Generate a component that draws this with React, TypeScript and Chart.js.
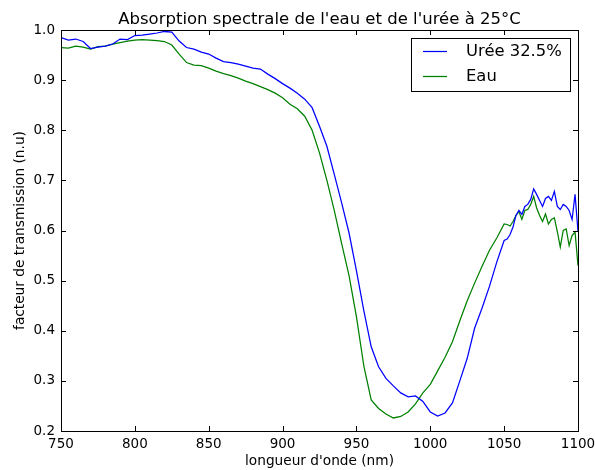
import React, { useEffect, useRef } from "react";
import { Chart, registerables } from "chart.js";

Chart.register(...registerables);

const TITLE = "Absorption spectrale de l'eau et de l'urée à 25°C";
const X_LABEL = "longueur d'onde (nm)";
const Y_LABEL = "facteur de transmission (n.u)";
const SERIES_NAMES = ["Urée 32.5%", "Eau"];

const wavelengths = [
  750, 755, 760, 765, 770, 775, 780, 785, 790, 795,
  800, 805, 810, 815, 820, 825, 830, 835, 840, 845,
  850, 855, 860, 865, 870, 875, 880, 885, 890, 895,
  900, 905, 910, 915, 920, 925, 930, 935, 940, 945,
  950, 955, 960, 965, 970, 975, 980, 985, 990, 995,
  1000, 1005, 1010, 1015, 1020, 1025, 1030, 1035, 1040, 1045,
  1050, 1052, 1054, 1056, 1058, 1060, 1062, 1064, 1066, 1068,
  1070, 1072, 1074, 1076, 1078, 1080, 1082, 1084, 1086, 1088,
  1090, 1092, 1094, 1096, 1098, 1100,
];

const ureeValues = [
  0.985, 0.98, 0.982, 0.977, 0.963, 0.966, 0.968, 0.972, 0.982, 0.981,
  0.989, 0.99, 0.992, 0.994, 0.997, 0.996, 0.978, 0.965, 0.962, 0.956,
  0.952, 0.944, 0.937, 0.935, 0.932, 0.928, 0.924, 0.922, 0.912, 0.903,
  0.893, 0.884, 0.874, 0.862, 0.845, 0.808, 0.768, 0.712, 0.655, 0.595,
  0.52, 0.44, 0.368, 0.328, 0.305, 0.29, 0.276, 0.268, 0.27, 0.259,
  0.238, 0.23, 0.236, 0.256, 0.3, 0.345, 0.405, 0.445, 0.488, 0.537,
  0.58, 0.583, 0.592, 0.607, 0.63, 0.64, 0.632, 0.648, 0.652, 0.662,
  0.683, 0.672, 0.66, 0.648, 0.664, 0.668, 0.66, 0.678, 0.648, 0.642,
  0.652, 0.648, 0.64, 0.622, 0.672, 0.598,
];

const eauValues = [
  0.965, 0.964, 0.968, 0.966, 0.962, 0.967, 0.968, 0.972, 0.975, 0.978,
  0.98, 0.981, 0.98, 0.979, 0.977, 0.97, 0.952, 0.935, 0.93, 0.929,
  0.924, 0.918, 0.913, 0.909, 0.904, 0.898, 0.893, 0.887, 0.881, 0.874,
  0.865, 0.852, 0.843, 0.828, 0.8, 0.755, 0.7, 0.64, 0.574, 0.51,
  0.428, 0.33, 0.262, 0.245, 0.234, 0.226, 0.229, 0.238, 0.254, 0.276,
  0.293, 0.32, 0.347, 0.378, 0.42, 0.46, 0.495, 0.528, 0.56, 0.585,
  0.613, 0.612, 0.609, 0.618, 0.63, 0.638, 0.622, 0.64, 0.642, 0.652,
  0.668, 0.645, 0.63, 0.618, 0.633, 0.613, 0.622, 0.625, 0.598, 0.567,
  0.6, 0.603, 0.57, 0.59, 0.597, 0.53,
];

const xTicks = [750, 800, 850, 900, 950, 1000, 1050, 1100];
const yTicks = [0.2, 0.3, 0.4, 0.5, 0.6, 0.7, 0.8, 0.9, 1.0];

const COLORS = ["#0000ff", "#008000"];
const FONT = "'DejaVu Sans', sans-serif";

const framePlugin = {
  id: "mplFrame",
  afterDraw(chart: any) {
    const { ctx, chartArea } = chart;
    const { left, right, top, bottom } = chartArea;
    const xs = chart.scales.x;
    const ys = chart.scales.y;
    ctx.save();
    ctx.strokeStyle = "#000";
    ctx.lineWidth = 1;
    const tl = 5;
    ctx.beginPath();
    xTicks.forEach((v) => {
      const px = Math.round(xs.getPixelForValue(v)) + 0.5;
      ctx.moveTo(px, bottom);
      ctx.lineTo(px, bottom - tl);
      ctx.moveTo(px, top);
      ctx.lineTo(px, top + tl);
    });
    yTicks.forEach((v) => {
      const py = Math.round(ys.getPixelForValue(v)) + 0.5;
      ctx.moveTo(left, py);
      ctx.lineTo(left + tl, py);
      ctx.moveTo(right, py);
      ctx.lineTo(right - tl, py);
    });
    ctx.stroke();
    ctx.strokeRect(Math.round(left) + 0.5, Math.round(top) + 0.5, Math.round(right - left), Math.round(bottom - top));

    ctx.fillStyle = "#000";
    ctx.font = `16.5px ${FONT}`;
    ctx.textAlign = "center";
    ctx.textBaseline = "alphabetic";
    ctx.fillText(TITLE, (left + right) / 2, 24);

    ctx.font = `13.7px ${FONT}`;
    ctx.fillText(X_LABEL, (left + right) / 2, 465);
    ctx.save();
    ctx.translate(24, (top + bottom) / 2);
    ctx.rotate(-Math.PI / 2);
    ctx.fillText(Y_LABEL, 0, 0);
    ctx.restore();

    const lx = 411.5, ly = 38.5, lw = 159, lh = 53;
    ctx.fillStyle = "#fff";
    ctx.fillRect(lx, ly, lw, lh);
    ctx.strokeStyle = "#000";
    ctx.lineWidth = 1;
    ctx.strokeRect(lx, ly, lw, lh);
    ctx.font = `16.4px ${FONT}`;
    ctx.textAlign = "left";
    ctx.textBaseline = "middle";
    SERIES_NAMES.forEach((name, i) => {
      const yy = 51 + i * 25;
      ctx.strokeStyle = COLORS[i];
      ctx.lineWidth = 1.25;
      ctx.beginPath();
      ctx.moveTo(423, yy + 0.5);
      ctx.lineTo(447, yy + 0.5);
      ctx.stroke();
      ctx.fillStyle = "#000";
      ctx.fillText(name, 466, yy + 1);
    });
    ctx.restore();
  },
};

export default function App() {
  const ref = useRef<HTMLCanvasElement | null>(null);
  useEffect(() => {
    document.body.style.margin = "0";
    const canvas = ref.current;
    if (!canvas) return;
    const chart = new Chart(canvas, {
      type: "line",
      data: {
        datasets: [
          {
            label: SERIES_NAMES[0],
            data: wavelengths.map((x, i) => ({ x, y: ureeValues[i] })),
            borderColor: COLORS[0],
            borderWidth: 1.25,
            pointRadius: 0,
            tension: 0,
            fill: false,
          },
          {
            label: SERIES_NAMES[1],
            data: wavelengths.map((x, i) => ({ x, y: eauValues[i] })),
            borderColor: COLORS[1],
            borderWidth: 1.25,
            pointRadius: 0,
            tension: 0,
            fill: false,
          },
        ],
      },
      options: {
        animation: false,
        responsive: false,
        maintainAspectRatio: false,
        devicePixelRatio: 1,
        layout: { padding: { left: 0, right: 17, top: 30, bottom: 0 } },
        plugins: {
          legend: { display: false },
          title: { display: false },
          tooltip: { enabled: false },
        },
        scales: {
          x: {
            type: "linear",
            min: 750,
            max: 1100,
            grid: { display: false, drawTicks: false },
            border: { display: false },
            afterFit: (s: any) => {
              s.height = 39;
              s.paddingLeft = 0;
              s.paddingRight = 0;
            },
            afterBuildTicks: (s: any) => { s.ticks = xTicks.map((v) => ({ value: v })); },
            ticks: {
              color: "#000",
              font: { family: FONT, size: 13.5 },
              padding: 5,
              maxRotation: 0,
              autoSkip: false,
              callback: (v: any) => String(v),
            },
          },
          y: {
            type: "linear",
            min: 0.2,
            max: 1.0,
            grid: { display: false, drawTicks: false },
            border: { display: false },
            afterFit: (s: any) => {
              s.width = 61;
              s.paddingTop = 0;
              s.paddingBottom = 0;
            },
            afterBuildTicks: (s: any) => { s.ticks = yTicks.map((v) => ({ value: v })); },
            ticks: {
              color: "#000",
              font: { family: FONT, size: 13.5 },
              padding: 6,
              autoSkip: false,
              callback: (v: any) => Number(v).toFixed(1),
            },
          },
        },
      },
      plugins: [framePlugin],
    });
    return () => chart.destroy();
  }, []);
  return (
    <div style={{ width: 595, height: 470, background: "#fff" }}>
      <canvas ref={ref} width={595} height={470} style={{ display: "block" }} />
    </div>
  );
}
